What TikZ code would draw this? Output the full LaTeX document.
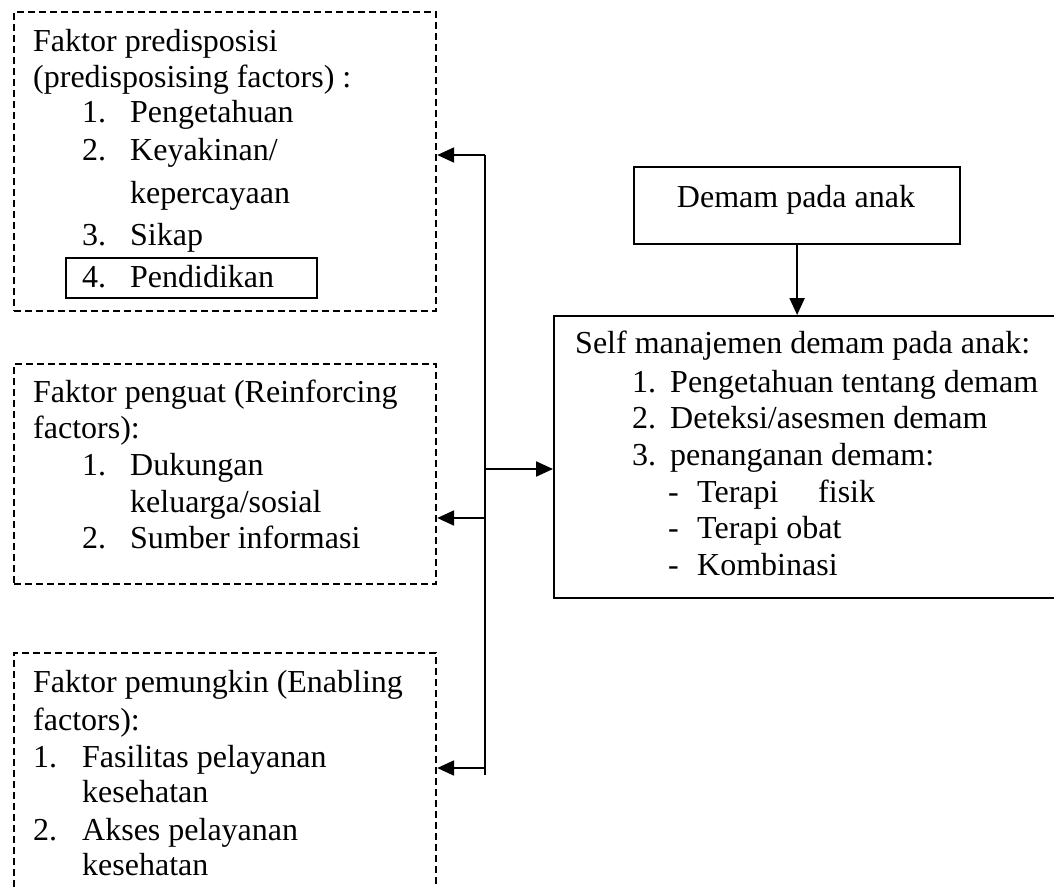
\documentclass[tikz,border=0pt]{standalone}
\usepackage{fontspec}
\setmainfont{Liberation Serif}
\usetikzlibrary{arrows.meta}
\begin{document}
\begin{tikzpicture}[x=1pt,y=-1pt,
  dbox/.style={draw, dash pattern=on 7pt off 4pt, line width=2.2pt, rectangle, anchor=north west, inner sep=0pt},
  sbox/.style={draw, line width=2.2pt, rectangle, anchor=north west, inner sep=0pt},
  txt/.style={anchor=base west, inner sep=0pt, font=\fontsize{32}{38}\selectfont},
  arr/.style={line width=2.2pt, -{Triangle[length=17pt,width=15pt]}},
  ln/.style={line width=2.2pt}]
\useasboundingbox (0,0) rectangle (1054,888);
\clip (0,0) rectangle (1054,888);
% boxes
\node[dbox, minimum width=422pt, minimum height=299pt] (b1) at (13,11) {};
\node[dbox, minimum width=422pt, minimum height=220pt] (b2) at (13,363) {};
\node[dbox, minimum width=422pt, minimum height=260pt] (b3) at (13,652) {};
\node[sbox, minimum width=251pt, minimum height=40pt] (pb) at (65,257) {};
\node[sbox, minimum width=326pt, minimum height=77pt] (dm) at (633,166) {};
\node[sbox, minimum width=501pt, minimum height=282pt] (sm) at (553,315) {};
% box 1 text
\node[txt] (a1) at (33,52) {Faktor predisposisi};
\node[txt] (a2) at (33,88) {(predisposising factors) :};
\node[txt] (a3) at (82,123) {1.};
\node[txt] (a3t) at (130,123) {Pengetahuan};
\node[txt] (a4) at (82,160) {2.};
\node[txt] (a4t) at (130,160) {Keyakinan/};
\node[txt] (a5t) at (130,203) {kepercayaan};
\node[txt] (a6) at (82,245) {3.};
\node[txt] (a6t) at (130,245) {Sikap};
\node[txt] (a7) at (82,287) {4.};
\node[txt] (a7t) at (130,287) {Pendidikan};
% box 2 text
\node[txt] (c1) at (33,402) {Faktor penguat (Reinforcing};
\node[txt] (c2) at (33,438) {factors):};
\node[txt] (c3) at (82,475) {1.};
\node[txt] (c3t) at (130,475) {Dukungan};
\node[txt] (c4t) at (130,512) {keluarga/sosial};
\node[txt] (c5) at (82,548) {2.};
\node[txt] (c5t) at (130,548) {Sumber informasi};
% box 3 text
\node[txt] (e1) at (33,692) {Faktor pemungkin (Enabling};
\node[txt] (e2) at (33,730) {factors):};
\node[txt] (e3) at (33,767) {1.};
\node[txt] (e3t) at (82,767) {Fasilitas pelayanan};
\node[txt] (e4t) at (82,802) {kesehatan};
\node[txt] (e5) at (33,840) {2.};
\node[txt] (e5t) at (82,840) {Akses pelayanan};
\node[txt] (e6t) at (82,875) {kesehatan};
% demam box text
\node[anchor=base, inner sep=0pt, font=\fontsize{32}{38}\selectfont] (dt) at (796,207) {Demam pada anak};
% self box text
\node[txt] (s1) at (575,353) {Self manajemen demam pada anak:};
\node[txt] (s2) at (632,392) {1.};
\node[txt] (s2t) at (670,392) {Pengetahuan tentang demam};
\node[txt] (s3) at (632,428) {2.};
\node[txt] (s3t) at (670,428) {Deteksi/asesmen demam};
\node[txt] (s4) at (632,465) {3.};
\node[txt] (s4t) at (670,465) {penanganan demam:};
\node[txt] (s5) at (668,502) {-};
\node[txt] (s5t) at (697,502) {Terapi};
\node[txt] (s5u) at (818,502) {fisik};
\node[txt] (s6) at (668,538) {-};
\node[txt] (s6t) at (697,538) {Terapi obat};
\node[txt] (s7) at (668,575) {-};
\node[txt] (s7t) at (697,575) {Kombinasi};
% connectors
\coordinate (jt) at (485,155);
\coordinate (jm) at (485,469);
\coordinate (jl) at (485,518);
\coordinate (jb3) at (485,768);
\coordinate (jb) at (485,775);
\draw[ln] (jt) -- (jb);
\draw[arr] (jt) -- (b1.east |- jt);
\draw[arr] (jm) -- (sm.west |- jm);
\draw[arr] (jl) -- (b2.east |- jl);
\draw[arr] (jb3) -- (b3.east |- jb3);
\draw[arr] (dm.south) -- (dm.south |- sm.north);
\end{tikzpicture}
\end{document}
